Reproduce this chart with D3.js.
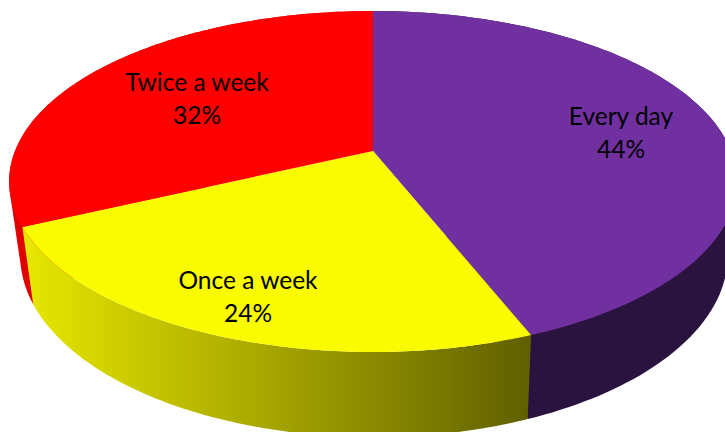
<!DOCTYPE html>
<html lang="en">
<head>
<meta charset="UTF-8">
<script src="https://unpkg.com/d3@7/dist/d3.min.js"></script>
<title>Pie</title>
<style>
html, body { margin: 0; padding: 0; background: #fff; overflow: hidden; }
svg { display: block; }
text { font-family: Lato, sans-serif; font-size: 24.5px; fill: #000; }
</style>
</head>
<body>
<script>
var categories = ["Every day", "Once a week", "Twice a week"];
var shares = [44, 24, 32];
var topColors = ["#7030a0", "#fbfb00", "#ff0000"];
var sideColors = ["#2b1340", "url(#yellowSide)", "#e00000"];

var width = 725, height = 432;

// the pie is seen in perspective: apex sits above the middle of the ellipse
var cx = 373, cy = 151, rx = 358, ry = 165, tilt = -0.179;

var svg = d3.select("body").append("svg")
    .attr("width", width).attr("height", height);

var grad = svg.append("defs").append("linearGradient").attr("id", "yellowSide")
    .attr("gradientUnits", "userSpaceOnUse")
    .attr("x1", 22).attr("x2", 532).attr("y1", 0).attr("y2", 0);
grad.append("stop").attr("offset", 0).attr("stop-color", "#e8e800");
grad.append("stop").attr("offset", 1).attr("stop-color", "#5f5f00");

var arcs = d3.pie().sort(null)(shares);
var line = d3.line();

// point on the top rim for a pie angle
function rim(a) {
    var u = Math.sin(a), v = -Math.cos(a), w = 1 + tilt * v;
    return [cx + rx * u / w, cy + ry * v / w];
}

// same point on the bottom rim, a bit narrower and lower towards the viewer
function lowerRim(a) {
    var p = rim(a);
    return [cx + 1 + 0.972 * (p[0] - cx), p[1] + 77 + (p[1] - 225) * 0.064];
}

function angles(a0, a1) {
    return d3.range(0, 121).map(function(i) { return a0 + (a1 - a0) * i / 120; });
}

// side walls: the two that reach the silhouette use a hull, the front one goes last
var walls = svg.append("g");
[0, 2, 1].forEach(function(i) {
    var d = arcs[i], pts = angles(d.startAngle, d.endAngle);
    var outline = i === 1
        ? pts.map(rim).concat(pts.slice().reverse().map(lowerRim))
        : d3.polygonHull(pts.map(rim).concat(pts.map(lowerRim)));
    walls.append("path")
        .attr("d", line(outline) + "Z")
        .attr("fill", sideColors[i]);
});

svg.append("g").selectAll("path")
    .data(arcs)
    .enter()
    .append("path")
    .attr("d", function(d) {
        return line([[cx, cy]].concat(angles(d.startAngle, d.endAngle).map(rim))) + "Z";
    })
    .attr("fill", function(d, i) { return topColors[i]; });

// labels
var labelX = [621, 248, 197];
var labelY = [125, 289, 91];
categories.forEach(function(c, i) {
    svg.append("text").attr("text-anchor", "middle")
        .attr("x", labelX[i]).attr("y", labelY[i]).text(c);
    svg.append("text").attr("text-anchor", "middle")
        .attr("x", labelX[i]).attr("y", labelY[i] + 33).text(shares[i] + "%");
});
</script>
</body>
</html>
